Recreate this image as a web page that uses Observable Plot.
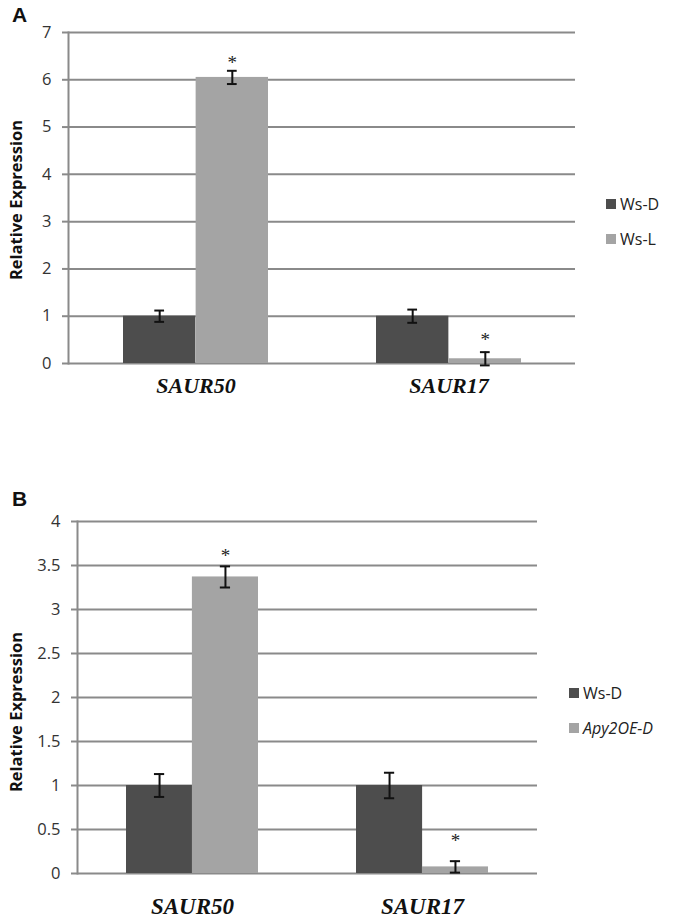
<!DOCTYPE html>
<html><head><meta charset="utf-8">
<script src="https://cdn.jsdelivr.net/npm/d3@7"></script>
<script src="https://cdn.jsdelivr.net/npm/@observablehq/plot@0.6"></script>
<style>
body{margin:0;background:#fff;}
#wrap{position:relative;width:673px;height:921px;overflow:hidden;font-family:"Open Sans",sans-serif;background:#fff;}
.abs{position:absolute;}
.letter{font-family:"Liberation Sans",Arial,sans-serif;font-weight:bold;font-size:21px;line-height:21px;color:#111;}
.ytitle{transform:translate(-50%,-50%) rotate(-90deg);white-space:nowrap;font-weight:bold;font-size:16.5px;color:#111;}
.leg{display:flex;align-items:center;font-size:16px;color:#222;line-height:20px;}
.sw{width:10px;height:10px;margin-right:4px;}
</style></head><body><div id="wrap"></div>
<script>
// ---- data ----
const genes = ["SAUR50", "SAUR17"];

const seriesA = ["Ws-D", "Ws-L"];
const valA_WsD = [1.0, 1.0];
const errA_WsD = [0.12, 0.14];
const valA_WsL = [6.05, 0.10];
const errA_WsL = [0.14, 0.14];
const starA_WsL = [6.36, 0.49];
const ticksA = [0, 1, 2, 3, 4, 5, 6, 7];

const seriesB = ["Ws-D", "Apy2OE-D"];
const valB_WsD = [1.0, 1.0];
const errB_WsD = [0.13, 0.145];
const valB_Apy = [3.37, 0.075];
const errB_Apy = [0.12, 0.065];
const starB_Apy = [3.61, 0.37];
const ticksB = [0, 0.5, 1, 1.5, 2, 2.5, 3, 3.5, 4];

const colors = ["#4d4d4d", "#a4a4a4"];
const gridColor = "#8a8a8a";

function rows(vals, errs, stars) {
  return genes.map((g, i) => ({gene: g, value: vals[i], err: errs[i], star: stars ? stars[i] : null}));
}

function panel(o) {
  const pi = 0.427;
  const plotW = o.width - o.ml - o.mr;
  const bw = (plotW / 2) * (1 - pi);
  const half = bw / 2;
  const capW = 10;
  const capInset = (bw - capW) / 2;
  const marks = [
    Plot.ruleY(o.ticks, {stroke: gridColor, strokeWidth: 2}),
    Plot.frame({anchor: "left", stroke: gridColor, strokeWidth: 2}),
    Plot.axisY({ticks: o.ticks, tickSize: 6, tickPadding: 11, stroke: gridColor, strokeWidth: 2,
      fontSize: 16.5, fill: "#333", label: null, tickFormat: d => String(d)}),
    Plot.axisX({tickSize: 0, tickPadding: o.xPad, fontSize: o.xFont, fontFamily: "Liberation Serif",
      fontStyle: "italic", fontWeight: "bold", fill: "#111", label: null})
  ];
  o.series.forEach((s, k) => {
    const data = o.data[k];
    const off = k === 0 ? -bw / 4 : bw / 4;
    marks.push(Plot.barY(data, {x: "gene", y: "value", fill: colors[k],
      insetRight: k === 0 ? half : 0, insetLeft: k === 1 ? half : 0}));
    marks.push(Plot.ruleX(data, {x: "gene", y1: d => d.value - d.err, y2: d => d.value + d.err,
      dx: off, stroke: "#111", strokeWidth: 2}));
    marks.push(Plot.tickY(data, {x: "gene", y: d => d.value + d.err, dx: off,
      insetLeft: capInset, insetRight: capInset, stroke: "#111", strokeWidth: 2}));
    marks.push(Plot.tickY(data, {x: "gene", y: d => d.value - d.err, dx: off,
      insetLeft: capInset, insetRight: capInset, stroke: "#111", strokeWidth: 2}));
    marks.push(Plot.text(data.filter(d => d.star != null), {x: "gene", y: "star", dx: off, text: () => "*",
      fontSize: 19, fontFamily: "Liberation Serif", fill: "#222"}));
  });
  return Plot.plot({
    width: o.width, height: o.height,
    marginLeft: o.ml, marginRight: o.mr, marginTop: o.mt, marginBottom: o.mb,
    x: {domain: genes, paddingInner: pi, paddingOuter: pi / 2},
    y: {domain: o.yDomain},
    style: {fontFamily: "Open Sans, sans-serif", background: "transparent", overflow: "visible"},
    marks
  });
}

const wrap = document.getElementById("wrap");
function place(el, left, top) { el.classList.add("abs"); el.style.left = left + "px"; el.style.top = top + "px"; wrap.appendChild(el); return el; }
function div(cls, html) { const d = document.createElement("div"); d.className = cls; d.innerHTML = html; return d; }

// Panel A
const plotA = panel({width: 673, height: 420, ml: 68, mr: 98, mt: 32, mb: 57, xPad: 14, xFont: 22,
  yDomain: [0, 7], ticks: ticksA, series: seriesA,
  data: [rows(valA_WsD, errA_WsD, null), rows(valA_WsL, errA_WsL, starA_WsL)]});
place(plotA, 0, 0);

// Panel B
const plotB = panel({width: 673, height: 461, ml: 77, mr: 136, mt: 61, mb: 48, xPad: 24, xFont: 23,
  yDomain: [0, 4], ticks: ticksB, series: seriesB,
  data: [rows(valB_WsD, errB_WsD, null), rows(valB_Apy, errB_Apy, starB_Apy)]});
place(plotB, 0, 460);

// Letters
place(div("letter", "A"), 12, 4);
place(div("letter", "B"), 12, 488);

// Y titles
place(div("ytitle", "Relative Expression"), 15, 200);
place(div("ytitle", "Relative Expression"), 15, 712);

// Legends
function legend(names, left, top, gap) {
  names.forEach((n, k) => {
    const label = k === 1 && n === "Apy2OE-D" ? "<i>" + n + "</i>" : n;
    place(div("leg", `<span class="sw" style="background:${colors[k]}"></span><span>${label}</span>`), left, top + k * gap);
  });
}
legend(seriesA, 606, 194, 35);
legend(seriesB, 569, 683, 35);
</script>
</body></html>
